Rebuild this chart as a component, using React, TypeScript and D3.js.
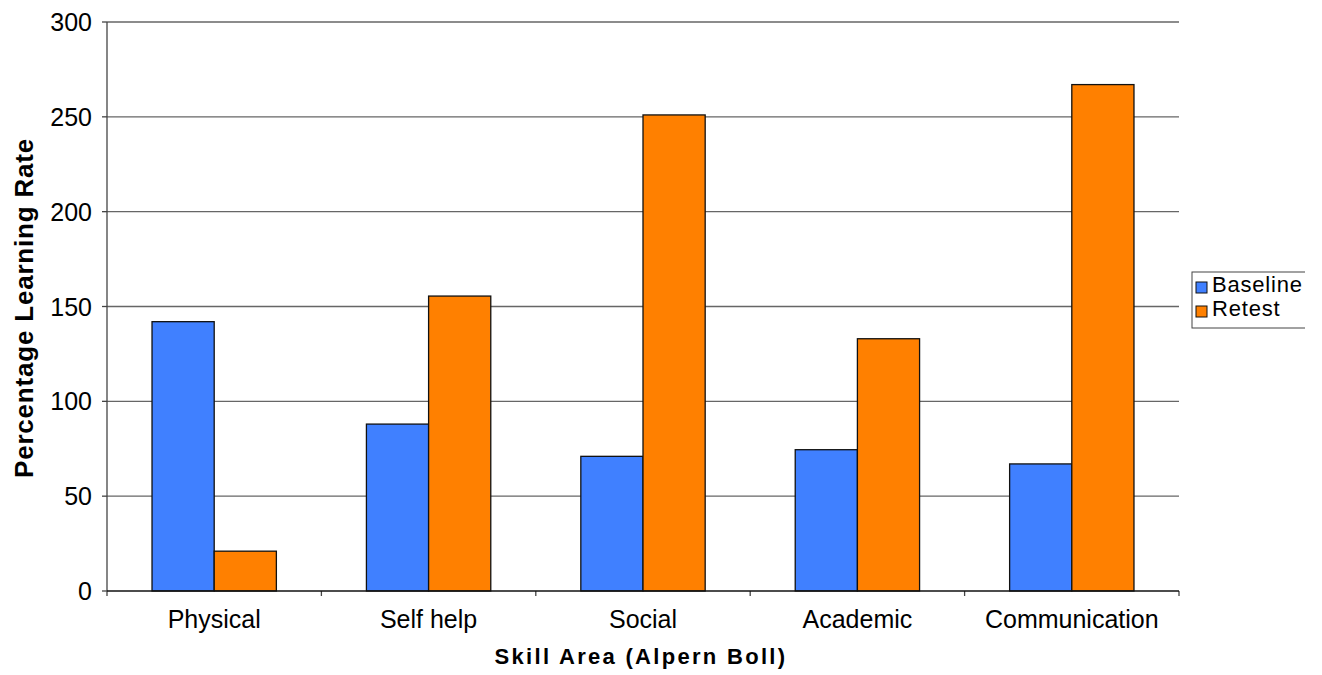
import React from "react";
import * as d3 from "d3";

const categories = ["Physical", "Self help", "Social", "Academic", "Communication"];
const seriesNames = ["Baseline", "Retest"];
const baseline = [142, 88, 71, 74.5, 67];
const retest = [21, 155.5, 251, 133, 267];
const yTicks = [0, 50, 100, 150, 200, 250, 300];
const colors = ["#4080FF", "#FF8000"];

export default function App() {
  const W = 1322, H = 675;
  const left = 107, right = 1179, top = 22, bottom = 591;
  const x = d3.scaleBand<string>().domain(categories).range([left, right]).paddingInner(0).paddingOuter(0);
  const y = d3.scaleLinear().domain([0, 300]).range([bottom, top]);
  const sub = d3.scaleBand<string>().domain(seriesNames).range([0, x.bandwidth() * 0.58]);
  const groupOffset = (x.bandwidth() - x.bandwidth() * 0.58) / 2;
  const series = [baseline, retest];
  const font = "'Liberation Sans', Arial, Helvetica, sans-serif";

  return (
    <svg width={W} height={H} style={{ position: "absolute", left: 0, top: 0, background: "#fff" }} fontFamily={font}>
      <defs>
        <clipPath id="lgclip">
          <rect x={0} y={0} width={1305} height={H} />
        </clipPath>
      </defs>
      {yTicks.map((t) => (
        <g key={t}>
          {t > 0 && <line x1={left} x2={right} y1={y(t)} y2={y(t)} stroke="#666" strokeWidth={1.3} />}
          <line x1={left - 5} x2={left} y1={y(t)} y2={y(t)} stroke="#444" strokeWidth={1.3} />
          <text x={left - 15} y={y(t) + 9} textAnchor="end" fontSize={25} fill="#000">{t}</text>
        </g>
      ))}
      {categories.map((c, i) => (
        <g key={c}>
          {series.map((s, j) => (
            <rect
              key={j}
              x={(x(c) as number) + groupOffset + (sub(seriesNames[j]) as number)}
              y={y(s[i])}
              width={sub.bandwidth()}
              height={bottom - y(s[i])}
              fill={colors[j]}
              stroke="#111"
              strokeWidth={1.3}
            />
          ))}
          <text x={(x(c) as number) + x.bandwidth() / 2} y={628} textAnchor="middle" fontSize={25} fill="#000">{c}</text>
        </g>
      ))}
      {categories.concat([""]).map((c, i) => {
        const xx = left + i * x.bandwidth();
        return <line key={i} x1={xx} x2={xx} y1={bottom} y2={bottom + 5} stroke="#444" strokeWidth={1.3} />;
      })}
      <line x1={left} x2={left} y1={top} y2={bottom} stroke="#444" strokeWidth={1.3} />
      <line x1={left} x2={right} y1={bottom} y2={bottom} stroke="#111" strokeWidth={1.5} />
      <text x={641} y={664} textAnchor="middle" fontSize={22} fontWeight="bold" letterSpacing={2.3} fill="#000">Skill Area (Alpern Boll)</text>
      <text transform={`translate(33,308) rotate(-90)`} textAnchor="middle" fontSize={26} fontWeight="bold" letterSpacing={0.8} fill="#000">Percentage Learning Rate</text>
      <g clipPath="url(#lgclip)">
        <rect x={1192} y={272} width={140} height={56} fill="#fff" stroke="#444" strokeWidth={1} />
        {seriesNames.map((n, j) => (
          <g key={n}>
            <rect x={1196} y={282 + j * 24} width={11} height={11} fill={colors[j]} stroke="#111" strokeWidth={1} />
            <text x={1212} y={292 + j * 24} fontSize={22} letterSpacing={0.8} fill="#000">{n}</text>
          </g>
        ))}
      </g>
    </svg>
  );
}
